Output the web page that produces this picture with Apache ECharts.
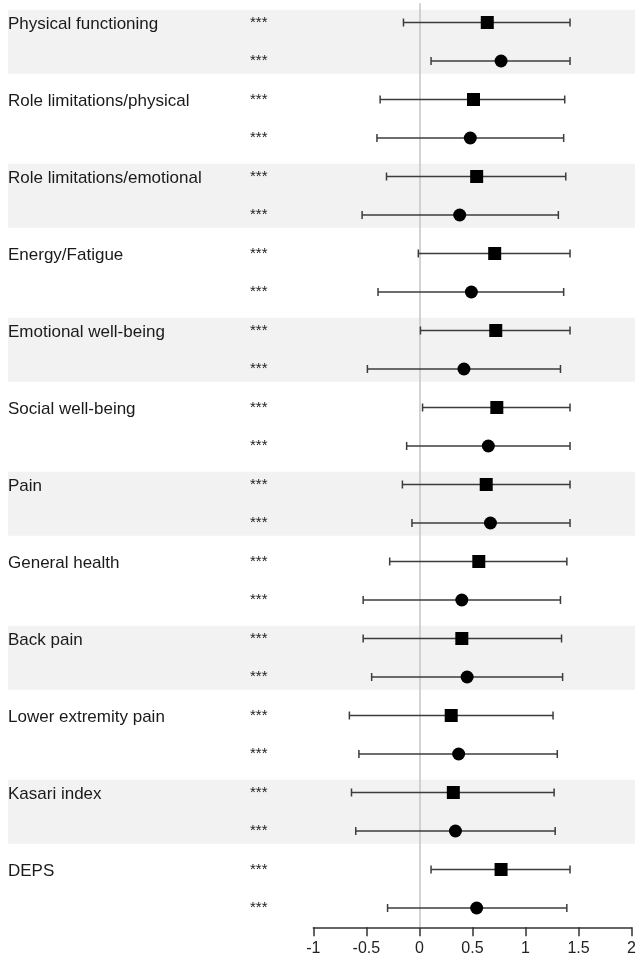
<!DOCTYPE html>
<html>
<head>
<meta charset="utf-8">
<script src="https://cdn.jsdelivr.net/npm/echarts@6/dist/echarts.min.js"></script>
<style>
  html, body { margin: 0; padding: 0; background: #fff; }
  #chart { width: 639px; height: 972px; }
</style>
</head>
<body>
<div id="chart"></div>
<script>
const categories = [
  'Physical functioning', 'Role limitations/physical', 'Role limitations/emotional',
  'Energy/Fatigue', 'Emotional well-being', 'Social well-being', 'Pain',
  'General health', 'Back pain', 'Lower extremity pain', 'Kasari index', 'DEPS'
]
const stars = ['***', '***', '***', '***', '***', '***', '***', '***', '***', '***', '***', '***']

// square marker row (first row of each pair)
const squareEst = [0.64, 0.51, 0.54, 0.71, 0.72, 0.73, 0.63, 0.56, 0.40, 0.30, 0.32, 0.77]
const squareLow = [-0.15, -0.37, -0.31, -0.01, 0.01, 0.03, -0.16, -0.28, -0.53, -0.66, -0.64, 0.11]
const squareHigh = [1.42, 1.37, 1.38, 1.42, 1.42, 1.42, 1.42, 1.39, 1.34, 1.26, 1.27, 1.42]

// circle marker row (second row of each pair)
const circleEst = [0.77, 0.48, 0.38, 0.49, 0.42, 0.65, 0.67, 0.40, 0.45, 0.37, 0.34, 0.54]
const circleLow = [0.11, -0.40, -0.54, -0.39, -0.49, -0.12, -0.07, -0.53, -0.45, -0.57, -0.60, -0.30]
const circleHigh = [1.42, 1.36, 1.31, 1.36, 1.33, 1.42, 1.42, 1.33, 1.35, 1.30, 1.28, 1.39]

const font = '"Liberation Sans", Arial, sans-serif'

// two rows per category, keys kept unique for the category axis
const rowKeys = []
const rowNames = []
const rowStars = []
categories.forEach((c, k) => {
  rowKeys.push('r' + (2 * k), 'r' + (2 * k + 1))
  rowNames.push(c, '')
  rowStars.push(stars[k], stars[k])
})

const squarePoints = squareEst.map((v, k) => [v, 2 * k])
const circlePoints = circleEst.map((v, k) => [v, 2 * k + 1])
const bars = []
categories.forEach((c, k) => {
  bars.push([squareLow[k], squareHigh[k], 2 * k])
  bars.push([circleLow[k], circleHigh[k], 2 * k + 1])
})
// shaded band on every other category
const bands = categories.map((c, k) => [0, 2 * k]).filter((d, k) => k % 2 === 0)

function renderBand(params, api) {
  const r = api.value(1)
  const a = api.coord([0, r])
  const b = api.coord([1, r + 1])
  const h = b[1] - a[1]
  return {
    type: 'rect',
    shape: { x: a[0], y: a[1] - h * 0.33, width: b[0] - a[0], height: h * 1.66 },
    style: { fill: '#f2f2f2' }
  }
}

function renderBar(params, api) {
  const lo = api.coord([api.value(0), api.value(2)])
  const hi = api.coord([api.value(1), api.value(2)])
  const cap = 4
  const st = { stroke: '#3c3c3c', lineWidth: 1.5 }
  return {
    type: 'group',
    children: [
      { type: 'line', shape: { x1: lo[0], y1: lo[1], x2: hi[0], y2: hi[1] }, style: st },
      { type: 'line', shape: { x1: lo[0], y1: lo[1] - cap, x2: lo[0], y2: lo[1] + cap }, style: st },
      { type: 'line', shape: { x1: hi[0], y1: hi[1] - cap, x2: hi[0], y2: hi[1] + cap }, style: st }
    ]
  }
}

const chart = echarts.init(document.getElementById('chart'), null, { renderer: 'canvas' })

const option = {
  animation: false,
  backgroundColor: '#fff',
  grid: [
    { left: 8, top: 3.25, width: 627, height: 924 },
    { left: 313.3, top: 3.25, width: 320.7, height: 924 }
  ],
  xAxis: [
    {
      gridIndex: 0, type: 'value', min: 0, max: 1,
      axisLine: { show: false }, axisTick: { show: false },
      axisLabel: { show: false }, splitLine: { show: false }
    },
    {
      gridIndex: 1,
      type: 'value',
      min: -1,
      max: 2,
      interval: 0.5,
      splitLine: { show: false },
      axisLine: { show: true, onZero: false, lineStyle: { color: '#333', width: 1.5 } },
      axisTick: { show: true, length: 9, lineStyle: { color: '#333', width: 1.5 } },
      axisLabel: { fontSize: 16, color: '#222', margin: 13, fontFamily: font }
    }
  ],
  yAxis: [
    {
      gridIndex: 0, type: 'category', data: rowKeys, inverse: true,
      axisLine: { show: false }, axisTick: { show: false },
      axisLabel: { show: false }, splitLine: { show: false }
    },
    {
      gridIndex: 1,
      type: 'category',
      data: rowKeys,
      inverse: true,
      axisLine: { show: false },
      axisTick: { show: false },
      axisLabel: {
        margin: 305.3,
        align: 'left',
        formatter: (val, idx) => '{n|' + (rowNames[idx] || ' ') + '}{s|' + rowStars[idx] + '}',
        rich: {
          n: { width: 242, fontSize: 17, color: '#1a1a1a', fontFamily: font, padding: [3, 0, 0, 0] },
          s: { fontSize: 15, color: '#222', fontFamily: font }
        }
      }
    }
  ],
  series: [
    {
      type: 'custom',
      xAxisIndex: 0,
      yAxisIndex: 0,
      data: bands,
      encode: { x: 0, y: 1 },
      renderItem: renderBand,
      silent: true,
      z: 0
    },
    {
      type: 'custom',
      xAxisIndex: 1,
      yAxisIndex: 1,
      data: bars,
      encode: { x: [0, 1], y: 2 },
      renderItem: renderBar,
      z: 3
    },
    {
      type: 'scatter',
      xAxisIndex: 1,
      yAxisIndex: 1,
      data: squarePoints,
      symbol: 'rect',
      symbolSize: 13,
      itemStyle: { color: '#000', opacity: 1 },
      z: 4,
      markLine: {
        silent: true,
        z: 1,
        symbol: ['none', 'none'],
        label: { show: false },
        lineStyle: { color: '#c4c4c4', width: 1.5, type: 'solid' },
        data: [{ xAxis: 0 }]
      }
    },
    {
      type: 'scatter',
      xAxisIndex: 1,
      yAxisIndex: 1,
      data: circlePoints,
      symbol: 'circle',
      symbolSize: 13,
      itemStyle: { color: '#000', opacity: 1 },
      z: 4
    }
  ]
}

chart.setOption(option)
</script>
</body>
</html>
